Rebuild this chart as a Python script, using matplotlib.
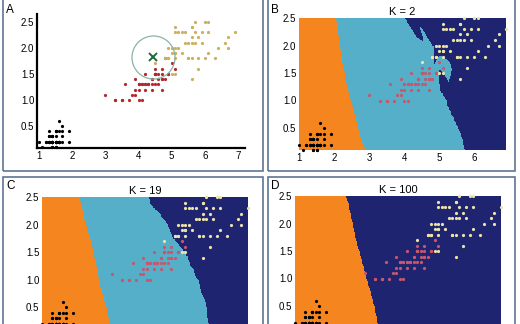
import matplotlib.pyplot as plt
import numpy as np
from matplotlib.colors import ListedColormap
from matplotlib.patches import Rectangle

plt.rcParams['font.family'] = ['Liberation Sans', 'DejaVu Sans']

# iris petal length / petal width
setosa_len = [1.4, 1.4, 1.3, 1.5, 1.4, 1.7, 1.4, 1.5, 1.4, 1.5, 1.5, 1.6, 1.4, 1.1, 1.2, 1.5, 1.3,
              1.4, 1.7, 1.5, 1.7, 1.5, 1.0, 1.7, 1.9, 1.6, 1.6, 1.5, 1.4, 1.6, 1.6, 1.5, 1.5, 1.4,
              1.5, 1.2, 1.3, 1.4, 1.3, 1.5, 1.3, 1.3, 1.3, 1.6, 1.9, 1.4, 1.6, 1.4, 1.5, 1.4]
setosa_wid = [0.2, 0.2, 0.2, 0.2, 0.2, 0.4, 0.3, 0.2, 0.2, 0.1, 0.2, 0.2, 0.1, 0.1, 0.2, 0.4, 0.4,
              0.3, 0.3, 0.3, 0.2, 0.4, 0.2, 0.5, 0.2, 0.2, 0.4, 0.2, 0.2, 0.2, 0.2, 0.4, 0.1, 0.2,
              0.2, 0.2, 0.2, 0.1, 0.2, 0.2, 0.3, 0.3, 0.2, 0.6, 0.4, 0.3, 0.2, 0.2, 0.2, 0.2]
versi_len = [4.7, 4.5, 4.9, 4.0, 4.6, 4.5, 4.7, 3.3, 4.6, 3.9, 3.5, 4.2, 4.0, 4.7, 3.6, 4.4, 4.5,
             4.1, 4.5, 3.9, 4.8, 4.0, 4.9, 4.7, 4.3, 4.4, 4.8, 5.0, 4.5, 3.5, 3.8, 3.7, 3.9, 5.1,
             4.5, 4.5, 4.7, 4.4, 4.1, 4.0, 4.4, 4.6, 4.0, 3.3, 4.2, 4.2, 4.2, 4.3, 3.0, 4.1]
versi_wid = [1.4, 1.5, 1.5, 1.3, 1.5, 1.3, 1.6, 1.0, 1.3, 1.4, 1.0, 1.5, 1.0, 1.4, 1.3, 1.4, 1.5,
             1.0, 1.5, 1.1, 1.8, 1.3, 1.5, 1.2, 1.3, 1.4, 1.4, 1.7, 1.5, 1.0, 1.1, 1.0, 1.2, 1.6,
             1.5, 1.6, 1.5, 1.3, 1.3, 1.3, 1.2, 1.4, 1.2, 1.0, 1.3, 1.2, 1.3, 1.3, 1.1, 1.3]
virg_len = [6.0, 5.1, 5.9, 5.6, 5.8, 6.6, 4.5, 6.3, 5.8, 6.1, 5.1, 5.3, 5.5, 5.0, 5.1, 5.3, 5.5,
            6.7, 6.9, 5.0, 5.7, 4.9, 6.7, 4.9, 5.7, 6.0, 4.8, 4.9, 5.6, 5.8, 6.1, 6.4, 5.6, 5.1,
            5.6, 6.1, 5.6, 5.5, 4.8, 5.4, 5.6, 5.1, 5.1, 5.9, 5.7, 5.2, 5.0, 5.2, 5.4, 5.1]
virg_wid = [2.5, 1.9, 2.1, 1.8, 2.2, 2.1, 1.7, 1.8, 1.8, 2.5, 2.0, 1.9, 2.1, 2.0, 2.4, 2.3, 1.8,
            2.2, 2.3, 1.5, 2.3, 2.0, 2.0, 1.8, 2.1, 1.8, 1.8, 1.8, 2.1, 1.6, 1.9, 2.0, 2.2, 1.5,
            1.4, 2.3, 2.4, 1.8, 1.8, 2.1, 2.4, 2.3, 1.9, 2.3, 2.5, 2.3, 1.9, 2.0, 2.3, 1.8]

query_pt = (4.45, 1.83)
k_values = [2, 19, 100]
panel_labels = ['A', 'B', 'C', 'D']

region_cols = ['#f5861f', '#55afc8', '#1e2470']
pts_a = ['black', '#b5262f', '#cbb060']
pts_k = ['black', '#c8566c', '#ece3a6']

X = np.column_stack([setosa_len + versi_len + virg_len, setosa_wid + versi_wid + virg_wid])
y = np.repeat([0, 1, 2], 50)


def knn(gx, gy, k):
    g = np.column_stack([gx.ravel(), gy.ravel()])
    d = ((g[:, None, :] - X[None, :, :]) ** 2).sum(-1)
    idx = np.argsort(d, axis=1, kind='stable')[:, :k]
    votes = y[idx]
    counts = np.stack([(votes == c).sum(1) for c in range(3)], 1)
    return counts.argmax(1).reshape(gx.shape)  # ties -> smallest class


W, H = 520, 324
fig = plt.figure(figsize=(W / 100, H / 100), dpi=100)


def px_axes(x0, y0, x1, y1):
    return fig.add_axes([x0 / W, 1 - y1 / H, (x1 - x0) / W, (y1 - y0) / H])


# panel frames
for (x0, y0, x1, y1) in [(3, -5, 263, 171), (268, -5, 515, 171), (3, 177, 263, 335), (268, 177, 515, 335)]:
    fig.patches.append(Rectangle((x0 / W, 1 - y1 / H), (x1 - x0) / W, (y1 - y0) / H,
                                 transform=fig.transFigure, fill=False, ec='#5d7594', lw=1.2))

label_pos = [(6, 10), (271, 10), (6, 186), (271, 186)]
for lab, (lx, ly) in zip(panel_labels, label_pos):
    fig.text(lx / W, 1 - ly / H, lab, fontsize=8.5, ha='left', va='center')

# panel A
ax = px_axes(37, 14, 245, 148)
ax.set_xlim(0.94, 7.21)
ax.set_ylim(0.077, 2.65)
for s in ['top', 'right']:
    ax.spines[s].set_visible(False)
for s in ['left', 'bottom']:
    ax.spines[s].set_linewidth(1.6)
ax.tick_params(length=0, labelsize=7, pad=2)
ax.set_xticks([1, 2, 3, 4, 5, 6, 7])
ax.set_yticks([0.5, 1.0, 1.5, 2.0, 2.5])
ax.set_facecolor('none')
for c, (lx, wy) in enumerate([(setosa_len, setosa_wid), (versi_len, versi_wid), (virg_len, virg_wid)]):
    ax.plot(lx, wy, 'o', ms=2.3, mew=0, color=pts_a[c], clip_on=False)
ax.plot(*query_pt, 'o', ms=31, mfc='none', mec='#8db3a6', mew=0.9)
ax.plot(*query_pt, 'x', ms=6, mew=1.4, color='#1d6a3c')

# KNN panels
gx, gy = np.meshgrid(np.linspace(1, 6.9, 300), np.linspace(0.1, 2.5, 200))
boxes = [(299, 18, 506, 150), (42, 197, 248, 329), (295, 196, 501, 328)]
for i, (k, (x0, y0, x1, y1)) in enumerate(zip(k_values, boxes)):
    ax = px_axes(x0, y0, x1, y1)
    pred = knn(gx, gy, k)
    ax.imshow(pred, extent=(1, 6.9, 0.1, 2.5), origin='lower', aspect='auto',
              cmap=ListedColormap(region_cols), interpolation='nearest')
    for c, (lx, wy) in enumerate([(setosa_len, setosa_wid), (versi_len, versi_wid), (virg_len, virg_wid)]):
        ax.plot(lx, wy, 'o', ms=2.3, mew=0, color=pts_k[c], clip_on=False)
    ax.set_xlim(1, 6.9)
    ax.set_ylim(0.1, 2.5)
    for s in ax.spines.values():
        s.set_visible(False)
    ax.tick_params(length=0, labelsize=7, pad=2)
    # bottom row x labels fall outside the cropped picture
    ax.set_xticks([1, 2, 3, 4, 5, 6] if i == 0 else [])
    ax.set_yticks([0.5, 1.0, 1.5, 2.0, 2.5])
    ax.set_title(f'K = {k}', fontsize=8, pad=2)

fig.savefig('out.png', dpi=100)
